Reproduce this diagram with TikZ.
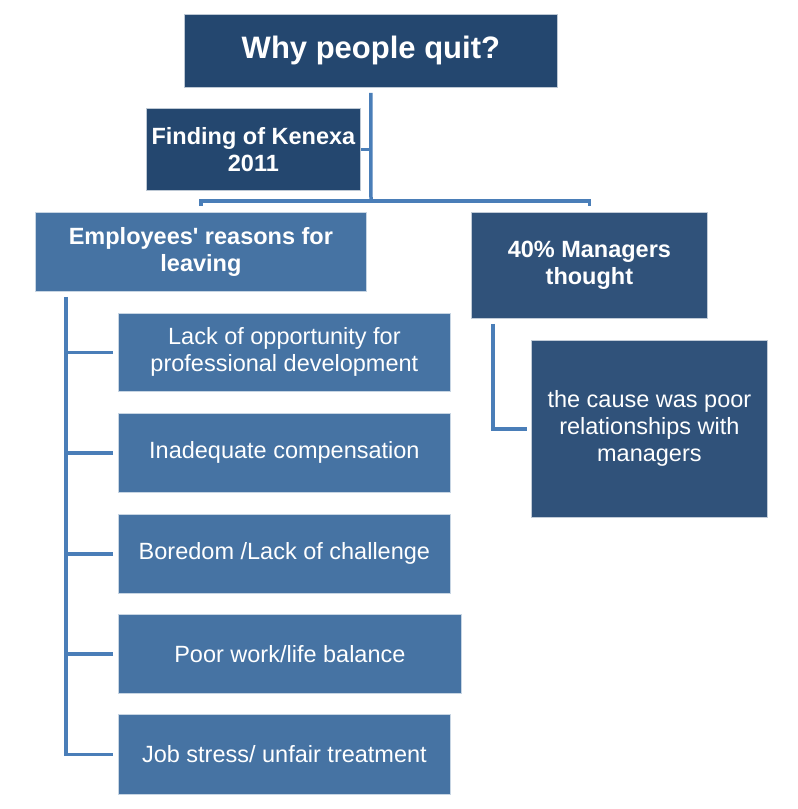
\documentclass[tikz,border=0pt]{standalone}
\usepackage{fontspec}
\setmainfont{Liberation Sans}[Ligatures=TeXOff]
\definecolor{navy}{HTML}{24476F}
\definecolor{midblue}{HTML}{4673A3}
\definecolor{slate}{HTML}{30527A}
\definecolor{linkc}{HTML}{4A7EB8}
\begin{document}
\begin{tikzpicture}[x=1pt,y=-1pt,
  box/.style={draw=white!70!#1, line width=0.8pt, fill=#1, text=white,
    anchor=north west, inner sep=0pt, align=center,
    font=\fontsize{23.5}{27}\selectfont},
  boldbox/.style={box=#1, font=\fontsize{23.5}{27}\selectfont\bfseries},
  link/.style={draw=linkc, line width=3.5pt}]
\useasboundingbox (0,0) rectangle (798,809);

\node[boldbox=navy, minimum width=373pt, minimum height=73pt,
  font=\fontsize{31}{36}\selectfont\bfseries] (top) at (184,14) {Why people quit?};
\node[boldbox=navy, minimum width=214pt, minimum height=82pt] (find) at (146,108) {Finding of Kenexa\\2011};
\node[boldbox=midblue, minimum width=331pt, minimum height=79pt] (emp) at (35,212) {Employees' reasons for\\leaving};
\node[boldbox=slate, minimum width=236pt, minimum height=106pt] (mgr) at (471,212) {40\% Managers\\thought};
\node[box=slate, minimum width=236pt, minimum height=177pt] (cause) at (531,340) {the cause was poor\\relationships with\\managers};

\node[box=midblue, minimum width=332pt, minimum height=78pt] (r1) at (118,313) {Lack of opportunity for\\professional development};
\node[box=midblue, minimum width=332pt, minimum height=79pt] (r2) at (118,413) {Inadequate compensation};
\node[box=midblue, minimum width=332pt, minimum height=79pt] (r3) at (118,514) {Boredom /Lack of challenge};
\node[box=midblue, minimum width=343pt, minimum height=79pt] (r4) at (118,614) {Poor work/life balance};
\node[box=midblue, minimum width=332pt, minimum height=80pt] (r5) at (118,714) {Job stress/ unfair treatment};

\coordinate (hub) at (371,201);
\draw[link] ([yshift=-5pt]top.south) -- (hub);
\draw[link] ([yshift=6pt]emp.north) |- (hub) -| ([yshift=6pt]mgr.north);
\draw[link] (find.east) -- (find.east -| hub);

\coordinate (etop) at ([xshift=31pt,yshift=-5pt]emp.south west);
\draw[link] (etop) |- ([xshift=-5pt]r5.west);
\foreach \r in {r1,r2,r3,r4}
  \draw[link] ([xshift=-5pt]\r.west) -- (\r.west -| etop);

\draw[link] ([xshift=22pt,yshift=-5pt]mgr.south west) |- ([xshift=-4pt]cause.west);
\end{tikzpicture}
\end{document}
